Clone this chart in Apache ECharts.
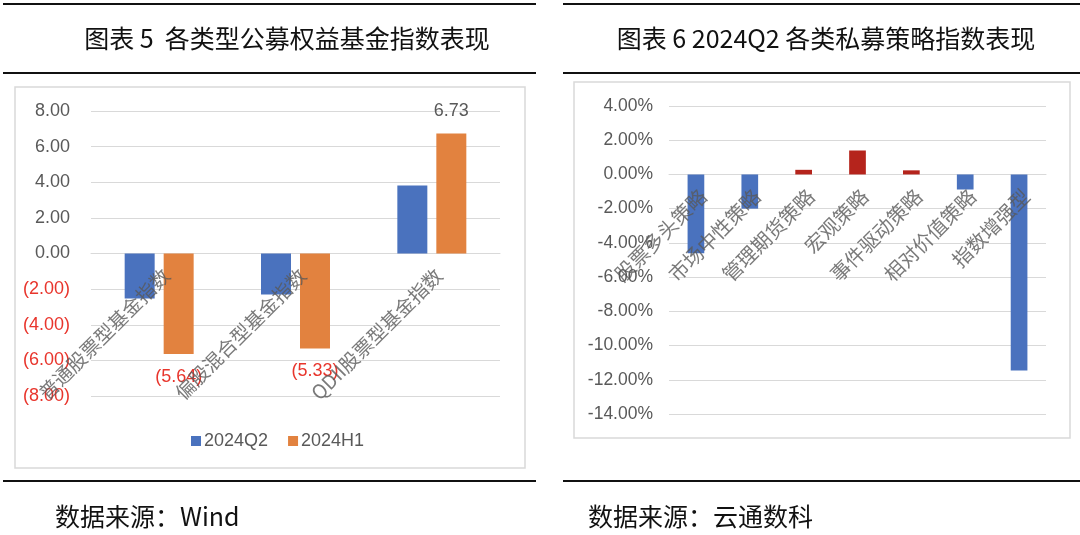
<!DOCTYPE html>
<html>
<head>
<meta charset="utf-8">
<script src="https://cdn.jsdelivr.net/npm/echarts@6/dist/echarts.min.js"></script>
<style>
html,body{margin:0;padding:0;background:#fff;}
#c{width:1080px;height:535px;}
</style>
</head>
<body>
<div id="c"></div>
<script>
// ---- Data ----
const leftTitle = '图表 5  各类型公募权益基金指数表现';
const rightTitle = '图表 6 2024Q2 各类私募策略指数表现';
const leftSource = '数据来源：Wind';
const rightSource = '数据来源：云通数科';

const fundCategories = ['普通股票型基金指数', '偏股混合型基金指数', 'QDII股票型基金指数'];
const seriesQ2 = [-2.53, -2.30, 3.82];
const seriesH1 = [-5.64, -5.33, 6.73];
const fundSeriesNames = ['2024Q2', '2024H1'];

const strategyCategories = ['股票多头策略', '市场中性策略', '管理期货策略', '宏观策略', '事件驱动策略', '相对价值策略', '指数增强型'];
const strategyValues = [-4.60, -2.00, 0.27, 1.40, 0.24, -0.88, -11.46];

// ---- Styles ----
const BLUE = '#4A72BE';
const ORANGE = '#E2823F';
const RED = '#B5241C';
const NEG = '#E8352C';
const GRAY = '#595959';
const GRID = '#D9D9D9';
const NUMFONT = '"Liberation Sans", Arial, "Noto Sans CJK SC", sans-serif';
const CJKFONT = '"Noto Sans CJK SC", "Noto Sans", sans-serif';

function acct(v) {
  return v < 0 ? '(' + Math.abs(v).toFixed(2) + ')' : v.toFixed(2);
}

const chart = echarts.init(document.getElementById('c'), null, {renderer: 'canvas'});

const line = (x1, x2, y) => ({
  type: 'line', shape: {x1: x1, y1: y, x2: x2, y2: y},
  style: {stroke: '#111', lineWidth: 2}, silent: true
});
const box = (x, y, w, h) => ({
  type: 'rect', shape: {x: x, y: y, width: w, height: h},
  style: {fill: 'none', stroke: '#D9D9D9', lineWidth: 1.5}, silent: true, z: -1
});
const txt = (s, x, y, size, align) => ({
  type: 'text', x: x, y: y,
  style: {text: s, font: 'normal ' + size + 'px ' + CJKFONT, fill: '#111',
          textAlign: align, textVerticalAlign: 'middle'}, silent: true
});

// category labels drawn by hidden scatter series sitting on the zero line
const catLabelSeries = (cats, xi, yi, size) => ({
  type: 'scatter', xAxisIndex: xi, yAxisIndex: yi, symbolSize: 0, silent: true,
  z: 5,
  data: cats.map(c => [c, 0]),
  label: {
    show: true, position: [0, 0], offset: [-8, 18],
    rotate: 45, align: 'right', verticalAlign: 'middle',
    fontSize: size, color: GRAY, fontFamily: CJKFONT,
    formatter: p => p.value[0]
  },
  tooltip: {show: false}
});

const option = {
  backgroundColor: '#fff',
  animation: false,
  graphic: [
    line(3, 536, 4), line(563, 1080, 4),
    line(3, 536, 73), line(563, 1080, 73),
    line(3, 536, 481), line(563, 1080, 481),
    box(15, 87, 510, 381), box(574, 82, 496, 356),
    txt(leftTitle, 287, 38, 25, 'center'),
    txt(rightTitle, 826, 38, 25, 'center'),
    txt(leftSource, 55, 516, 25, 'left'),
    txt(rightSource, 588, 516, 25, 'left')
  ],
  legend: {
    data: fundSeriesNames,
    left: 186, top: 427,
    itemWidth: 10, itemHeight: 10, itemGap: 20,
    icon: 'rect',
    textStyle: {fontSize: 18, color: GRAY, fontFamily: NUMFONT, padding: [0, 0, 0, -2]}
  },
  grid: [
    {left: 91, top: 111, width: 409, height: 285, containLabel: false},
    {left: 669, top: 106, width: 377, height: 308, containLabel: false}
  ],
  xAxis: [
    {
      type: 'category', gridIndex: 0, data: fundCategories,
      axisTick: {show: false},
      axisLine: {show: true, onZero: true, lineStyle: {color: GRID}},
      axisLabel: {show: false}
    },
    {
      type: 'category', gridIndex: 1, data: strategyCategories,
      axisTick: {show: false},
      axisLine: {show: true, onZero: true, lineStyle: {color: GRID}},
      axisLabel: {show: false}
    }
  ],
  yAxis: [
    {
      type: 'value', gridIndex: 0, min: -8, max: 8, interval: 2,
      axisLine: {show: false}, axisTick: {show: false},
      splitLine: {lineStyle: {color: GRID, width: 1}},
      axisLabel: {
        fontSize: 18, fontFamily: NUMFONT, margin: 21,
        formatter: v => acct(v),
        color: v => (Number(v) < 0 ? NEG : GRAY)
      }
    },
    {
      type: 'value', gridIndex: 1, min: -14, max: 4, interval: 2,
      axisLine: {show: false}, axisTick: {show: false},
      splitLine: {lineStyle: {color: GRID, width: 1}},
      axisLabel: {
        fontSize: 17.5, fontFamily: NUMFONT, margin: 16, color: GRAY,
        formatter: v => v.toFixed(2) + '%'
      }
    }
  ],
  series: [
    {
      name: fundSeriesNames[0], type: 'bar', xAxisIndex: 0, yAxisIndex: 0,
      data: seriesQ2, barWidth: '22%', barGap: '30%',
      itemStyle: {color: BLUE}
    },
    {
      name: fundSeriesNames[1], type: 'bar', xAxisIndex: 0, yAxisIndex: 0,
      barWidth: '22%', barGap: '30%',
      itemStyle: {color: ORANGE},
      data: seriesH1.map(v => ({
        value: v,
        label: {
          show: true,
          position: v < 0 ? 'bottom' : 'top',
          distance: 14,
          color: v < 0 ? NEG : GRAY,
          fontSize: 18, fontFamily: NUMFONT,
          formatter: p => acct(p.value)
        }
      }))
    },
    {
      name: 'strategy', type: 'bar', xAxisIndex: 1, yAxisIndex: 1,
      barWidth: '31%',
      data: strategyValues.map(v => ({value: v, itemStyle: {color: v >= 0 ? RED : BLUE}}))
    },
    catLabelSeries(fundCategories, 0, 0, 19.5),
    catLabelSeries(strategyCategories, 1, 1, 20)
  ]
};
chart.setOption(option);
</script>
</body>
</html>
